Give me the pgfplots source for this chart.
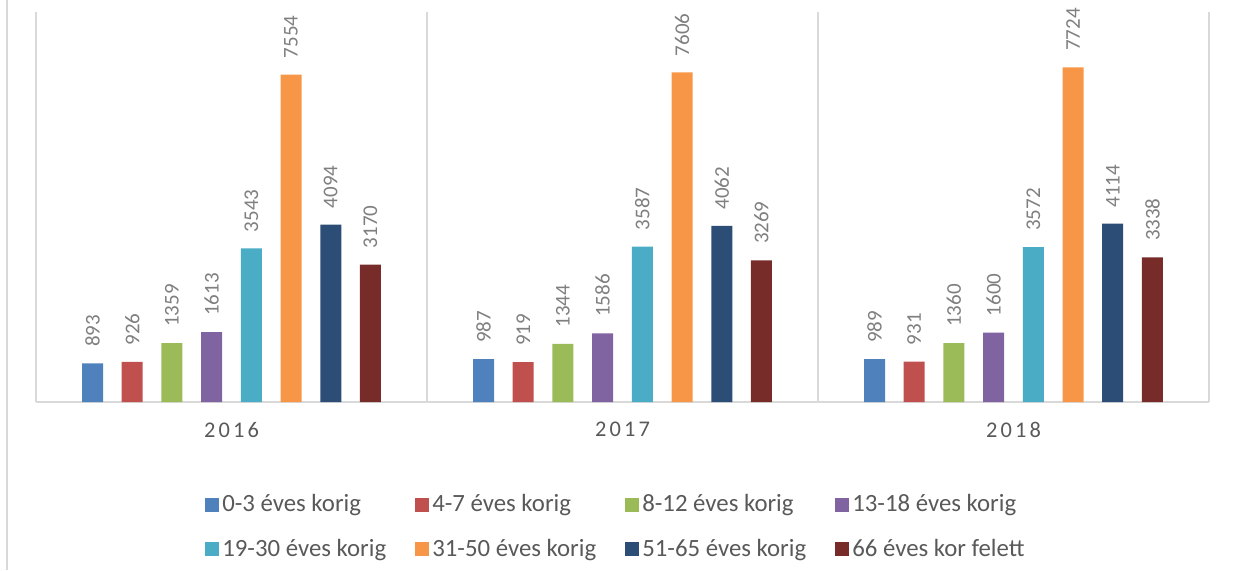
\documentclass[border=0pt]{standalone}
\usepackage{fontspec}
\setmainfont{Carlito}
\usepackage{pgfplots}
\pgfplotsset{compat=1.18}

\definecolor{s1}{HTML}{4F81BD}
\definecolor{s2}{HTML}{C0504D}
\definecolor{s3}{HTML}{9BBB59}
\definecolor{s4}{HTML}{8064A2}
\definecolor{s5}{HTML}{4BACC6}
\definecolor{s6}{HTML}{F79646}
\definecolor{s7}{HTML}{2C4D75}
\definecolor{s8}{HTML}{772C2A}
\definecolor{txt}{HTML}{595959}
\definecolor{vlab}{HTML}{7F7F7F}
\definecolor{gridc}{HTML}{D9D9D9}

\newcommand{\lent}[1]{\makebox[95pt][l]{#1}}

\begin{document}
\begin{tikzpicture}
\useasboundingbox (0,0) rectangle (619.5pt,285pt);
\draw[gridc, line width=0.75pt] (3.5pt,0) -- (3.5pt,285pt);
\begin{axis}[
    at={(18pt,84pt)}, anchor=south west,
    scale only axis, width=586.5pt, height=195pt,
    ybar=9.35pt, bar width=10.5pt,
    xmin=0.5, xmax=3.5, ymin=0, ymax=9000,
    axis x line=bottom, axis y line=none,
    x axis line style={-, draw=gridc, line width=1pt},
    xtick={1,2,3}, xticklabels={2016,2017,2018},
    minor xtick={0.5,1.5,2.5,3.5},
    xminorgrids,
    minor grid style={draw=gridc, line width=0.75pt},
    major tick length=0pt, minor tick length=0pt,
    xticklabel style={font=\fontsize{11.2}{13}\selectfont\addfontfeature{LetterSpace=14}, text=txt, yshift=-6.5pt},
    nodes near coords,
    every node near coord/.append style={rotate=90, anchor=west, inner xsep=8pt, inner ysep=0pt,
        font=\fontsize{10.5}{12}\selectfont, text=vlab},
    /pgf/number format/1000 sep={},
    /pgf/number format/assume math mode=true,
    legend columns=4,
    legend image code/.code={\fill[#1] (0pt,-3.5pt) rectangle (7pt,3.5pt);},
    legend style={at={(0.144,-0.32)}, anchor=west, draw=none, fill=none, inner sep=0pt,
        font=\fontsize{12.4}{14}\selectfont, text=txt, row sep=10pt,
        nodes={inner xsep=1.5pt, inner ysep=1pt}},
]
\addplot[fill=s1, draw=none] coordinates {(1,893) (2,987) (3,989)};
\addlegendentry{\lent{0-3 éves korig}}
\addplot[fill=s2, draw=none] coordinates {(1,926) (2,919) (3,931)};
\addlegendentry{\lent{4-7 éves korig}}
\addplot[fill=s3, draw=none] coordinates {(1,1359) (2,1344) (3,1360)};
\addlegendentry{\lent{8-12 éves korig}}
\addplot[fill=s4, draw=none] coordinates {(1,1613) (2,1586) (3,1600)};
\addlegendentry{\lent{13-18 éves korig}}
\addplot[fill=s5, draw=none] coordinates {(1,3543) (2,3587) (3,3572)};
\addlegendentry{\lent{19-30 éves korig}}
\addplot[fill=s6, draw=none] coordinates {(1,7554) (2,7606) (3,7724)};
\addlegendentry{\lent{31-50 éves korig}}
\addplot[fill=s7, draw=none] coordinates {(1,4094) (2,4062) (3,4114)};
\addlegendentry{\lent{51-65 éves korig}}
\addplot[fill=s8, draw=none] coordinates {(1,3170) (2,3269) (3,3338)};
\addlegendentry{\lent{66 éves kor felett}}
\end{axis}
\end{tikzpicture}
\end{document}
